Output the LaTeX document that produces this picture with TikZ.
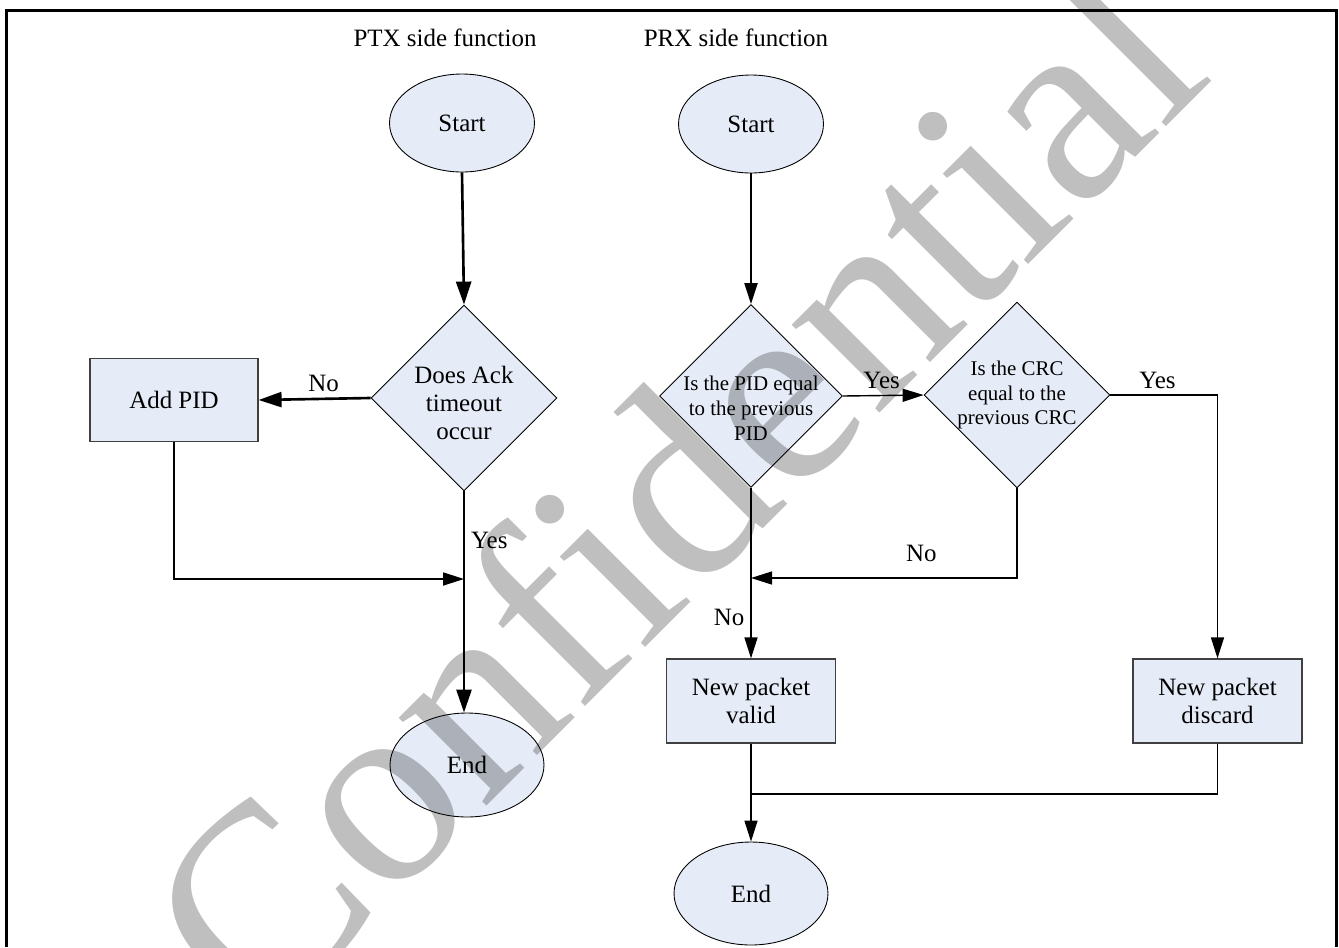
\documentclass[tikz,border=0pt]{standalone}
\usepackage{fontspec}
\setmainfont{Liberation Serif}
\usetikzlibrary{shapes.geometric,arrows.meta}

\definecolor{boxfill}{RGB}{230,236,247}
\definecolor{boxline}{RGB}{64,64,64}

\begin{document}
\begin{tikzpicture}[x=0.02cm, y=-0.02cm,
  every node/.style={font=\fontsize{14.2}{15.9}\selectfont},
  term/.style={ellipse, draw=black, line width=0.5pt, fill=boxfill,
    minimum width=2.9cm, minimum height=1.96cm, inner sep=0pt},
  decision/.style={diamond, aspect=1, draw=black, line width=0.5pt, fill=boxfill,
    minimum width=3.72cm, minimum height=3.72cm, inner sep=-12pt, align=center},
  process/.style={rectangle, draw=boxline, line width=0.7pt, fill=boxfill,
    minimum width=3.38cm, minimum height=1.68cm, align=center},
  smalltext/.style={font=\fontsize{11.9}{14.2}\selectfont},
  flow/.style={line width=0.8pt, -{Triangle[length=0.42cm, width=0.26cm]}},
  boldflow/.style={line width=1.5pt, -{Triangle[length=0.46cm, width=0.3cm]}},
]

\useasboundingbox (0,0) rectangle (1339,947);

% frame, open at the bottom
\draw[line width=1.4pt] (6.5,947) -- (6.5,10.5) -- (1336.5,10.5) -- (1336.5,947);

\node (ptxtitle) at (445,38) {PTX side function};
\node (prxtitle) at (736,38) {PRX side function};

%% PTX side
\node[term] (ptxstart) at (462,123) {Start};
\node[decision] (ack) at (464,398) {};
\node[align=center] (acktext) at (464,403) {Does Ack\\timeout\\occur};
\node[process, minimum width=3.36cm, minimum height=1.66cm] (addpid) at (174,400) {Add PID};
\node[term, minimum width=3.08cm, minimum height=2.08cm] (ptxend) at (467,765) {End};

\coordinate (ptxjoin) at (464,579);

\draw[boldflow] (ptxstart.south) -- (ack.north);
\draw[boldflow] (ack.west) -- (addpid.east) node[pos=0.42,above] (ptxno) {No};
\draw[flow, line width=1pt] (addpid.south) |- (ptxjoin);
\draw[boldflow] (ack.south) -- (ack.south |- ptxend.north) node[pos=0.22,right] (ptxyes) {Yes};

%% PRX side
\node[term] (prxstart) at (751,124) {Start};
\node[decision, minimum width=3.66cm, minimum height=3.66cm] (pideq) at (751,396) {};
\node[smalltext, align=center] (pidtext) at (751,408) {Is the PID equal\\to the previous\\PID};
\node[decision, smalltext] (crceq) at (1017,395) {Is the CRC\\equal to the\\previous CRC};
\node[process] (valid) at (751,701) {New packet\\valid};
\node[process] (discard) at (1217.5,701) {New packet\\discard};
\node[term, minimum width=3.08cm, minimum height=2.06cm] (prxend) at (751,893.5) {End};

\coordinate (prxjoin) at (751,578);
\coordinate (prxmerge) at (751,794);

\draw[flow, line width=1.2pt] (prxstart.south) -- (pideq.north);
\draw[flow] (pideq.east) -- (crceq.west) node[pos=0.48,above] (pidyes) {Yes};
\draw[flow] (crceq.east) -| (discard.north) node[pos=0.22,above] (crcyes) {Yes};
\draw[flow] (crceq.south) |- (prxjoin) node[pos=0.68,above=0.2cm] (crcno) {No};
\draw[flow] (pideq.south) -- (valid.north) node[pos=0.76,left] (pidno) {No};
\draw[line width=0.8pt] (discard.south) |- (prxmerge);
\draw[flow] (valid.south) -- (prxend.north);

% watermark on top
\node[rotate=45, anchor=base, text=black, text opacity=0.25,
  font=\fontsize{154}{160}\selectfont] (wmark) at (737,555.5) {Confidential};

\end{tikzpicture}
\end{document}
